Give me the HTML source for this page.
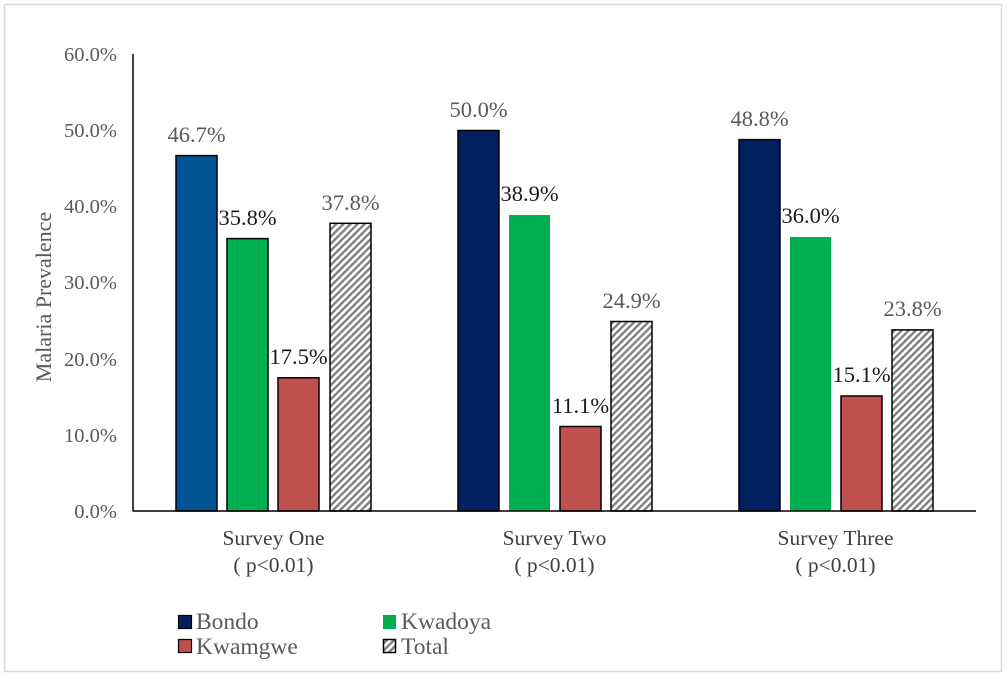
<!DOCTYPE html>
<html>
<head>
<meta charset="utf-8">
<style>
html,body{margin:0;padding:0;background:#fff;}
svg{display:block;}
text{font-family:"Liberation Serif","Times New Roman",serif;}
</style>
</head>
<body>
<svg width="1007" height="677" viewBox="0 0 1007 677" xmlns="http://www.w3.org/2000/svg">
<defs>
<pattern id="hatch" patternUnits="userSpaceOnUse" width="5" height="5" patternTransform="rotate(45)">
<rect width="5" height="5" fill="#ffffff"/>
<rect x="0" y="0" width="2.4" height="5" fill="#808080"/>
</pattern>
</defs>
<rect x="0" y="0" width="1007" height="677" fill="#fff"/>
<rect x="4.5" y="4.5" width="997" height="667" fill="none" stroke="#d9d9d9" stroke-width="1.5"/>

<!-- y tick labels -->
<g font-size="20.5" fill="#595959" text-anchor="end">
<text x="117" y="61">60.0%</text>
<text x="117" y="137">50.0%</text>
<text x="117" y="213">40.0%</text>
<text x="117" y="289">30.0%</text>
<text x="117" y="366">20.0%</text>
<text x="117" y="442">10.0%</text>
<text x="117" y="518">0.0%</text>
</g>

<!-- y title -->
<text transform="translate(51,297) rotate(-90)" font-size="22" fill="#595959" text-anchor="middle">Malaria Prevalence</text>

<!-- bars group 1 -->
<g stroke="#000" stroke-width="1.5">
<rect x="176" y="155.6" width="41" height="355.4" fill="#005494"/>
<rect x="227" y="238.6" width="41" height="272.4" fill="#00b050"/>
<rect x="278" y="377.8" width="41" height="133.2" fill="#c0504d"/>
<rect x="330" y="223.3" width="41" height="287.7" fill="url(#hatch)"/>
</g>
<!-- group 2 -->
<g stroke="#000" stroke-width="1.5">
<rect x="458" y="130.5" width="41" height="380.5" fill="#002060"/>
<rect x="560" y="426.5" width="41" height="84.5" fill="#c0504d"/>
<rect x="611" y="321.5" width="41" height="189.5" fill="url(#hatch)"/>
</g>
<rect x="509" y="215" width="41" height="296" fill="#00b050"/>
<!-- group 3 -->
<g stroke="#000" stroke-width="1.5">
<rect x="739" y="139.6" width="41" height="371.4" fill="#002060"/>
<rect x="841" y="396" width="41" height="115" fill="#c0504d"/>
<rect x="892" y="329.9" width="41" height="181.1" fill="url(#hatch)"/>
</g>
<rect x="790" y="237" width="41" height="274" fill="#00b050"/>

<!-- axes -->
<line x1="133" y1="54" x2="133" y2="511.5" stroke="#000" stroke-width="1.5"/>
<line x1="133" y1="511" x2="976" y2="511" stroke="#000" stroke-width="1.5"/>

<!-- data labels -->
<g font-size="22.5" text-anchor="middle">
<text x="196.5" y="142" fill="#595959">46.7%</text>
<text x="247.5" y="225" fill="#1a1a1a">35.8%</text>
<text x="298.5" y="364" fill="#1a1a1a">17.5%</text>
<text x="350.5" y="210" fill="#595959">37.8%</text>

<text x="478.5" y="117" fill="#595959">50.0%</text>
<text x="529.5" y="201" fill="#1a1a1a">38.9%</text>
<text x="580.5" y="413" fill="#1a1a1a">11.1%</text>
<text x="631.5" y="308" fill="#595959">24.9%</text>

<text x="759.5" y="126" fill="#595959">48.8%</text>
<text x="810.5" y="223" fill="#1a1a1a">36.0%</text>
<text x="861.5" y="382" fill="#1a1a1a">15.1%</text>
<text x="912.5" y="316" fill="#595959">23.8%</text>
</g>

<!-- category labels -->
<g font-size="21.5" fill="#404040" text-anchor="middle">
<text x="273.5" y="545">Survey One</text>
<text x="273.5" y="572">( p&lt;0.01)</text>
<text x="554.5" y="545">Survey Two</text>
<text x="554.5" y="572">( p&lt;0.01)</text>
<text x="835.5" y="545">Survey Three</text>
<text x="835.5" y="572">( p&lt;0.01)</text>
</g>

<!-- legend -->
<rect x="178.5" y="615.5" width="13" height="13" fill="#002060" stroke="#000" stroke-width="1.2"/>
<rect x="383" y="615" width="13" height="14" fill="#00b050"/>
<rect x="178.5" y="639.5" width="13" height="13" fill="#c0504d" stroke="#000" stroke-width="1.2"/>
<rect x="383.5" y="639.5" width="12" height="13" fill="url(#hatch)" stroke="#000" stroke-width="1.5"/>
<g font-size="23.5" fill="#595959">
<text x="196" y="629">Bondo</text>
<text x="401" y="629">Kwadoya</text>
<text x="196" y="654">Kwamgwe</text>
<text x="401" y="654">Total</text>
</g>
</svg>
</body>
</html>
